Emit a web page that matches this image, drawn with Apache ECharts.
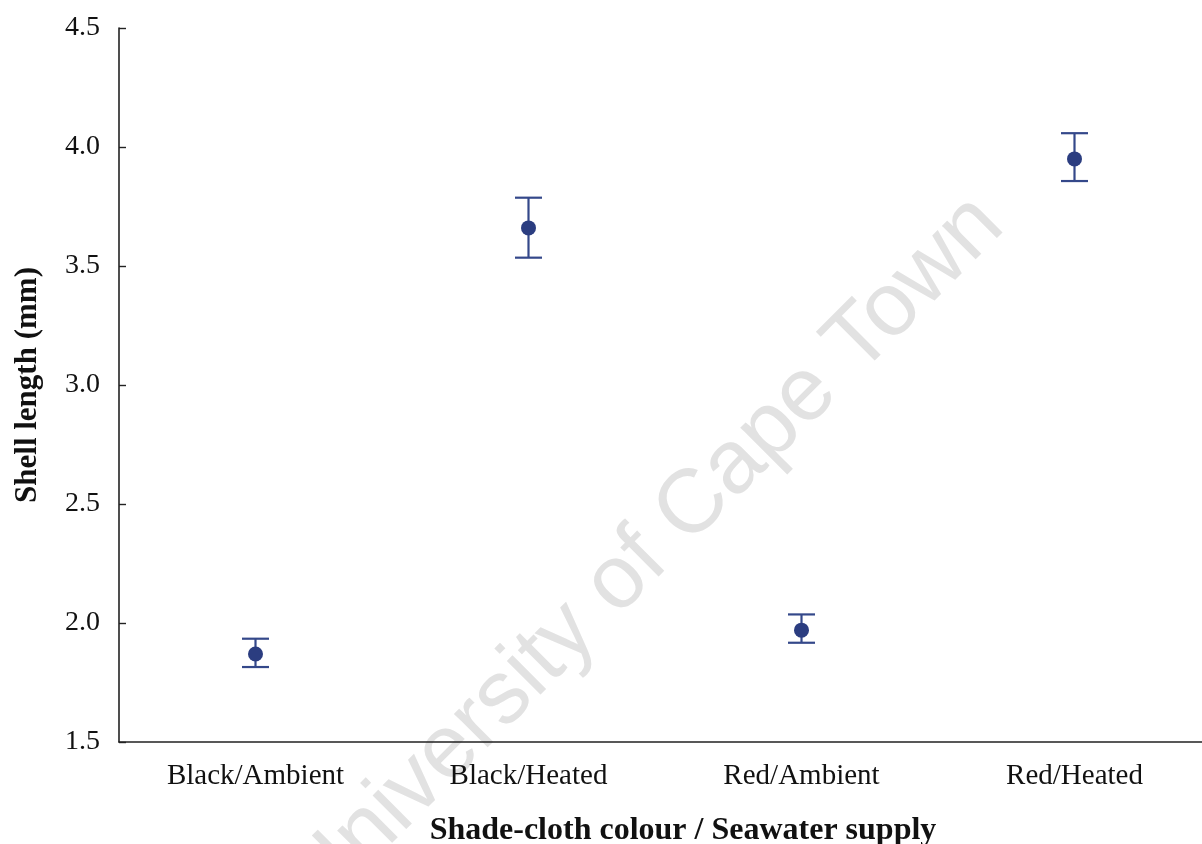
<!DOCTYPE html>
<html>
<head>
<meta charset="utf-8">
<title>Shell length by treatment</title>
<script src="https://cdn.jsdelivr.net/npm/echarts@6/dist/echarts.min.js"></script>
<style>
  html, body { margin: 0; padding: 0; background: #ffffff; }
  #chart { width: 1202px; height: 844px; }
</style>
</head>
<body>
<div id="chart"></div>
<script>
// Treatments (shade-cloth colour / seawater supply)
const categories = ['Black/Ambient', 'Black/Heated', 'Red/Ambient', 'Red/Heated'];
// Mean shell length (mm) and error-bar limits
const meanLength = [1.87, 3.66, 1.97, 3.95];
const lowerBound = [1.815, 3.535, 1.917, 3.857];
const upperBound = [1.934, 3.787, 2.036, 4.058];
// Y axis ticks
const yTicks = [1.5, 2.0, 2.5, 3.0, 3.5, 4.0, 4.5];

const markColor = '#2b3d80';
const barColor = '#34488a';
const serif = '"Liberation Serif", "Times New Roman", serif';

const errorData = categories.map((c, i) => [i, lowerBound[i], upperBound[i]]);

const chart = echarts.init(document.getElementById('chart'), null, { renderer: 'canvas' });

chart.setOption({
  animation: false,
  backgroundColor: '#ffffff',
  grid: { left: 119, top: 28, right: -9, bottom: 102, outerBoundsMode: 'none', containLabel: false },
  xAxis: {
    type: 'category',
    data: categories,
    boundaryGap: true,
    axisLine: { lineStyle: { color: '#222222', width: 1.6 } },
    axisTick: { inside: true, length: 7, alignWithLabel: true, lineStyle: { color: '#222222', width: 1.4 } },
    axisLabel: { color: '#111111', fontFamily: serif, fontSize: 29, margin: 20 },
    name: 'Shade-cloth colour / Seawater supply',
    nameLocation: 'middle',
    nameGap: 73,
    nameTextStyle: { color: '#111111', fontFamily: serif, fontSize: 32, fontWeight: 'bold', padding: [0, 0, 0, 36] }
  },
  yAxis: {
    type: 'value',
    min: yTicks[0],
    max: yTicks[yTicks.length - 1],
    interval: 0.5,
    splitLine: { show: false },
    axisLine: { show: true, lineStyle: { color: '#222222', width: 1.6 } },
    axisTick: { show: true, inside: true, length: 7, lineStyle: { color: '#222222', width: 1.4 } },
    axisLabel: { color: '#111111', fontFamily: serif, fontSize: 28, margin: 19, formatter: v => v.toFixed(1) },
    name: 'Shell length (mm)',
    nameLocation: 'middle',
    nameGap: 76,
    nameTextStyle: { color: '#111111', fontFamily: serif, fontSize: 31, fontWeight: 'bold' }
  },
  graphic: [{
    type: 'text',
    z: -10,
    silent: true,
    x: 303,
    y: 897,
    rotation: Math.PI / 4,
    style: {
      text: 'University of Cape Town',
      font: '90px "Liberation Sans", Arial, sans-serif',
      fill: '#e2e2e2',
      textAlign: 'left',
      textVerticalAlign: 'middle'
    }
  }],
  series: [
    {
      type: 'custom',
      name: 'error',
      data: errorData,
      z: 2,
      renderItem: function (params, api) {
        const x = api.value(0);
        const lo = api.coord([x, api.value(1)]);
        const hi = api.coord([x, api.value(2)]);
        const half = 13.5;
        const style = { stroke: barColor, lineWidth: 2.2, fill: null };
        return {
          type: 'group',
          children: [
            { type: 'line', shape: { x1: lo[0], y1: lo[1], x2: hi[0], y2: hi[1] }, style: style },
            { type: 'line', shape: { x1: lo[0] - half, y1: lo[1], x2: lo[0] + half, y2: lo[1] }, style: style },
            { type: 'line', shape: { x1: hi[0] - half, y1: hi[1], x2: hi[0] + half, y2: hi[1] }, style: style }
          ]
        };
      }
    },
    {
      type: 'scatter',
      name: 'mean',
      data: meanLength,
      symbol: 'circle',
      symbolSize: 15,
      z: 3,
      itemStyle: { color: markColor, opacity: 1 }
    }
  ]
});
</script>
</body>
</html>
